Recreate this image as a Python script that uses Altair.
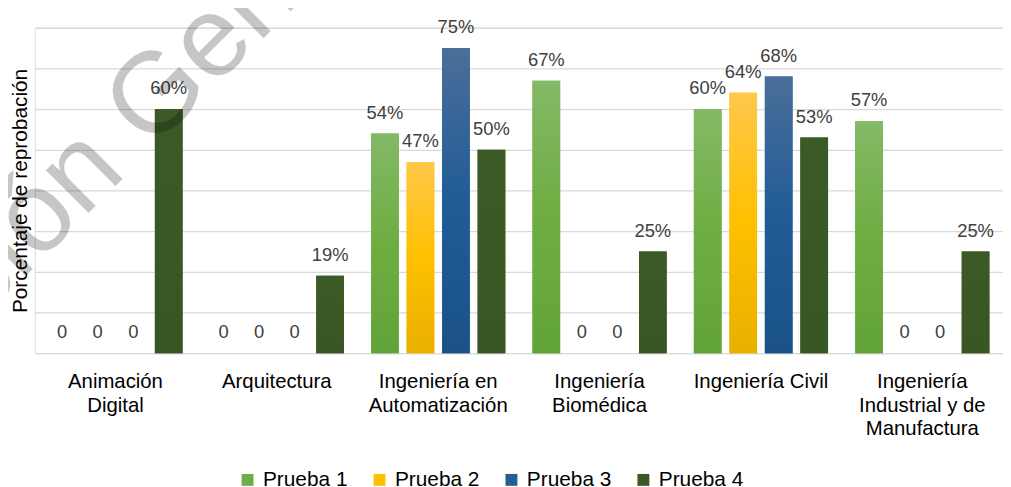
import altair as alt
import pandas as pd

categorias = [
    "Animación\nDigital",
    "Arquitectura",
    "Ingeniería en\nAutomatización",
    "Ingeniería\nBiomédica",
    "Ingeniería Civil",
    "Ingeniería\nIndustrial y de\nManufactura",
]
series = ["Prueba 1", "Prueba 2", "Prueba 3", "Prueba 4"]
prueba1 = [0, 0, 54, 67, 60, 57]
prueba2 = [0, 0, 47, 0, 64, 0]
prueba3 = [0, 0, 75, 0, 68, 0]
prueba4 = [60, 19, 50, 25, 53, 25]
valores = [prueba1, prueba2, prueba3, prueba4]

colores = ["#70AD47", "#FFC000", "#255E91", "#3A5A24"]
gradientes = [
    ["#84B966", "#6EAD42", "#62A339"],
    ["#FFC84A", "#FFC000", "#E8B000"],
    ["#4B6E99", "#215C97", "#1A5288"],
    ["#3C5A26", "#3A5824", "#385623"],
]
marca_agua = "Información Generada"

rows = []
for s, vals in zip(series, valores):
    for c, v in zip(categorias, vals):
        rows.append({"carrera": c, "serie": s, "valor": v,
                     "etiqueta": "0" if v == 0 else f"{v}%"})
df = pd.DataFrame(rows)

FONT = "Liberation Sans"

x_enc = alt.X(
    "carrera:N", sort=categorias,
    scale=alt.Scale(paddingInner=0.12, paddingOuter=0.06),
    axis=alt.Axis(title=None, labelAngle=0, ticks=False, domain=False,
                  labelFontSize=20.5, labelColor="#000000", labelPadding=19,
                  labelExpr="split(datum.label, '\\n')", labelLineHeight=23.5,
                  labelLimit=0, labelFont=FONT),
)
xo_enc = alt.XOffset("serie:N", sort=series,
                     scale=alt.Scale(paddingInner=0.22, paddingOuter=0.11))
y_enc = alt.Y(
    "valor:Q", scale=alt.Scale(domain=[0, 80], nice=False),
    axis=alt.Axis(values=list(range(0, 81, 10)), labels=False, ticks=False,
                  domain=False, grid=True, gridColor="#D9D9D9", gridWidth=1.3,
                  title="Porcentaje de reprobación", titleFontSize=21,
                  titleFontWeight="normal", titleColor="#000000",
                  titlePadding=4, titleFont=FONT),
)

base = alt.Chart(df)

bars = base.mark_bar().encode(
    x=x_enc, xOffset=xo_enc, y=y_enc,
    color=alt.Color("serie:N", sort=series,
                    scale=alt.Scale(domain=series, range=colores),
                    legend=alt.Legend(title=None, orient="none", legendX=204,
                                      legendY=445, direction="horizontal",
                                      symbolType="square", symbolSize=144,
                                      symbolStrokeWidth=0,
                                      labelFontSize=21, labelColor="#000000",
                                      labelFont=FONT, labelOffset=5,
                                      columnPadding=21, padding=0)),
)

layers = [bars]
for s, g in zip(series, gradientes):
    grad = alt.Gradient(
        gradient="linear", x1=0, y1=0, x2=0, y2=1,
        stops=[alt.GradientStop(offset=0, color=g[0]),
               alt.GradientStop(offset=0.5, color=g[1]),
               alt.GradientStop(offset=1, color=g[2])],
    )
    layers.append(
        base.transform_filter(alt.datum.serie == s)
        .mark_bar(color=grad)
        .encode(x=x_enc, xOffset=xo_enc, y=y_enc)
    )

labels = base.mark_text(baseline="middle", dy=-21, fontSize=18.5,
                        color="#404040", font=FONT).encode(
    x=x_enc, xOffset=xo_enc, y=y_enc, text="etiqueta:N")
layers.append(labels)

wm = alt.Chart(pd.DataFrame({"t": [marca_agua]})).mark_text(
    align="left", baseline="alphabetic", angle=315, fontSize=115,
    font=FONT, color="#000000", opacity=0.22,
).encode(text="t:N", x=alt.value(-331), y=alt.value(572))
layers.append(wm)

chart = alt.layer(*layers).properties(
    width=976, height=328,
    autosize=alt.AutoSizeParams(type="none"),
    padding={"left": 27, "top": 18, "right": 0, "bottom": 133},
).configure_view(stroke=None).configure(font=FONT)

chart.save("out.html", embed_options={"renderer": "svg", "actions": False})
